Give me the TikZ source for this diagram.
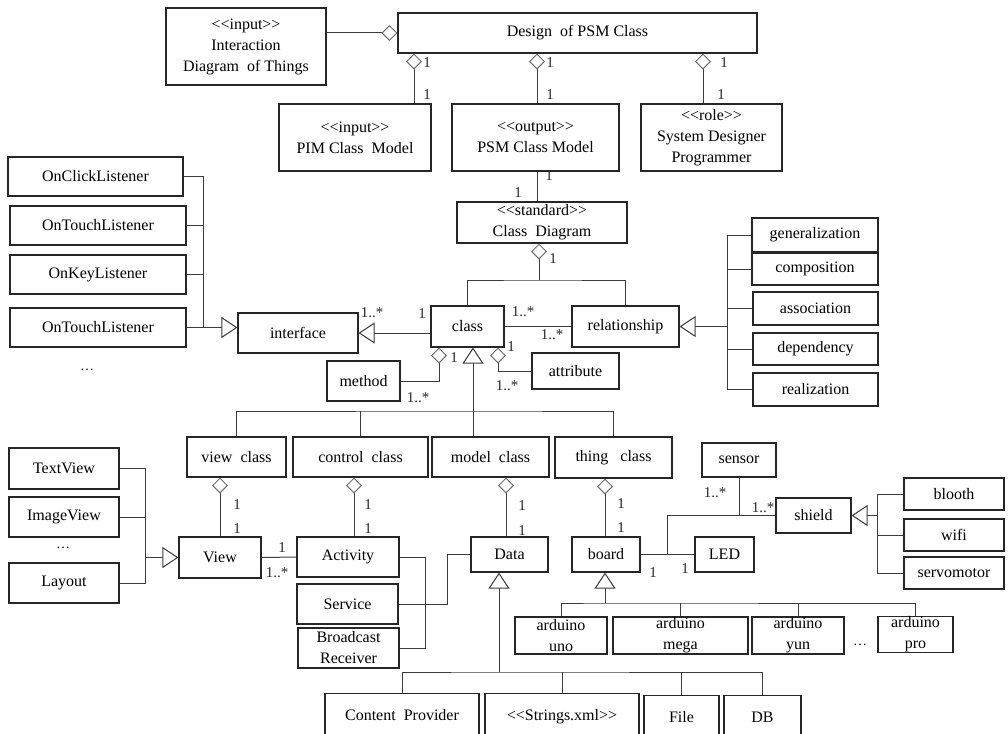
\documentclass[tikz,border=0pt]{standalone}
\usepackage{fontspec}
\setmainfont{Liberation Serif}[Ligatures=TeXOff]
\usetikzlibrary{arrows.meta}
\definecolor{edge}{HTML}{3C3C3C}
\definecolor{frame}{HTML}{262626}
\definecolor{hollow}{HTML}{6E6E6E}
\definecolor{multc}{HTML}{3A2230}
\tikzset{
  box/.style={draw=frame, line width=1.1pt, fill=white, inner sep=0pt, align=center,
    font=\fontsize{16}{21}\selectfont},
  cut/.style={draw=frame, line width=1.1pt, fill=white, inner sep=0pt, anchor=north,
    text height=27pt, text depth=20pt, font=\fontsize{16}{21}\selectfont},
  wire/.style={draw=edge, line width=1pt},
  agg/.style={{Diamond[length=16pt,width=16pt,color=hollow,fill=white]}-},
  isa/.style={-{Triangle[length=16pt,width=21pt,color=edge,fill=white]}},
  isaback/.style={{Triangle[length=16pt,width=21pt,color=edge,fill=white]}-},
  mult/.style={inner sep=0pt, text=multc, font=\fontsize{15}{15}\selectfont},
  dots/.style={inner sep=0pt, font=\fontsize{14}{14}\selectfont},
}
\begin{document}
\begin{tikzpicture}[x=1pt,y=-1pt]
\useasboundingbox (0,0) rectangle (1008,733);
\clip (0,0) rectangle (1008,733);
\fill[white] (0,0) rectangle (1008,733);

% ---- design task and its inputs / outputs
\node[box, minimum width=160pt, minimum height=77pt] (inter) at (246,46.5) {<<input>>\\Interaction\\Diagram\ \ of Things};
\node[box, minimum width=359pt, minimum height=40pt] (design) at (577.5,33) {Design\ \ of PSM Class};
\node[box, minimum width=152pt, minimum height=67pt] (pim) at (355,137.5) {<<input>>\\PIM Class\ \ Model};
\node[box, minimum width=167pt, minimum height=67pt] (psm) at (535.5,137.5) {<<output>>\\PSM Class Model};
\node[box, minimum width=141pt, minimum height=67pt] (role) at (711.5,137.5) {<<role>>\\System Designer\\Programmer};
\node[box, minimum width=170pt, minimum height=41pt] (cdiag) at (542,222.5) {<<standard>>\\Class\ \ Diagram};

% ---- listeners and interface
\node[box, minimum width=175pt, minimum height=39pt] (click) at (95.5,176.5) {OnClickListener};
\node[box, minimum width=176pt, minimum height=39pt] (touch1) at (98,225.5) {OnTouchListener};
\node[box, minimum width=176pt, minimum height=39pt] (key) at (98,274.5) {OnKeyListener};
\node[box, minimum width=176pt, minimum height=39pt] (touch2) at (98,327.5) {OnTouchListener};
\node[dots] (more1) at (87,370) {…};
\node[box, minimum width=120pt, minimum height=40pt] (iface) at (298,333) {interface};

% ---- class and its parts
\node[box, minimum width=73pt, minimum height=41pt] (cls) at (467.5,326.5) {class};
\node[box, minimum width=107pt, minimum height=41pt] (rel) at (625.5,326.5) {relationship};
\node[box, minimum width=73pt, minimum height=40pt] (method) at (363.5,381) {method};
\node[box, minimum width=87pt, minimum height=36pt] (attr) at (575.5,371) {attribute};

% ---- kinds of relationship
\node[box, minimum width=126pt, minimum height=34pt] (gen) at (815,235) {generalization};
\node[box, minimum width=126pt, minimum height=32pt] (comp) at (815,269) {composition};
\node[box, minimum width=125pt, minimum height=33pt] (assoc) at (815.5,308.5) {association};
\node[box, minimum width=125pt, minimum height=32pt] (dep) at (815.5,349) {dependency};
\node[box, minimum width=125pt, minimum height=33pt] (real) at (815.5,389.5) {realization};

% ---- class layers
\node[box, minimum width=99pt, minimum height=40pt] (vcls) at (236.5,457) {view\ \ class};
\node[box, minimum width=135pt, minimum height=40pt] (ccls) at (360.5,457) {control\ \ class};
\node[box, minimum width=117pt, minimum height=40pt] (mcls) at (490.5,457) {model\ \ class};
\node[box, minimum width=117pt, minimum height=41pt] (tcls) at (613.5,457.5) {thing\ \ \ class};

% ---- view layer
\node[box, minimum width=110pt, minimum height=41pt] (textv) at (64,468.5) {TextView};
\node[box, minimum width=110pt, minimum height=40pt] (imgv) at (64,517) {ImageView};
\node[dots] (more2) at (63,548) {…};
\node[box, minimum width=110pt, minimum height=40pt] (layout) at (64,583) {Layout};
\node[box, minimum width=82pt, minimum height=41pt] (view) at (220,557.5) {View};

% ---- control layer
\node[box, minimum width=102pt, minimum height=40pt] (act) at (348,557) {Activity};
\node[box, minimum width=101pt, minimum height=40pt] (serv) at (347.5,604) {Service};
\node[box, minimum width=101pt, minimum height=40pt] (bcast) at (348.5,648) {Broadcast\\Receiver};

% ---- model layer
\node[box, minimum width=77pt, minimum height=35pt] (data) at (509.5,554.5) {Data};
\node[cut, minimum width=154pt] (cprov) at (402,693) {Content\ \ Provider};
\node[cut, minimum width=154pt] (strxml) at (562,693) {<<Strings.xml>>};
\node[cut, minimum width=75pt] (file) at (681.5,695) {File};
\node[cut, minimum width=77pt] (db) at (762.5,695) {DB};

% ---- thing layer
\node[box, minimum width=68pt, minimum height=35pt] (board) at (606,554.5) {board};
\node[box, minimum width=59pt, minimum height=35pt] (led) at (724.5,554.5) {LED};
\node[box, minimum width=74pt, minimum height=34pt] (sensor) at (739,460) {sensor};
\node[box, minimum width=75pt, minimum height=35pt] (shield) at (813.5,515.5) {shield};
\node[box, minimum width=100pt, minimum height=32pt] (blooth) at (954,494) {blooth};
\node[box, minimum width=100pt, minimum height=32pt] (wifi) at (954,535) {wifi};
\node[box, minimum width=100pt, minimum height=32pt] (servo) at (954,573) {servomotor};
\node[box, minimum width=92pt, minimum height=37pt] (uno) at (561,635.5) {arduino\\uno};
\node[box, minimum width=135pt, minimum height=37pt] (mega) at (680.5,635.5) {arduino\\mega};
\node[box, minimum width=92pt, minimum height=37pt] (yun) at (798,635.5) {arduino\\yun};
\node[dots] (more3) at (860,645) {…};
\node[box, minimum width=75pt, minimum height=35pt] (pro) at (915.5,634.5) {arduino\\pro};

% ---- connectors: design task
\draw[wire, agg] (design.west) -- (design.west -| inter.east);
\draw[wire, agg] (design.south -| 414,0) -- (pim.north -| 414,0);
\draw[wire, agg] (design.south -| 537,0) -- (psm.north -| 537,0);
\draw[wire, agg] (design.south -| 703,0) -- (role.north -| 703,0);
\draw[wire] (psm.south -| 537,0) -- (cdiag.north -| 537,0);

% ---- connectors: class diagram content
\coordinate (cbus) at (539,280);
\draw[wire, agg] (cdiag.south -| cbus) -- (cbus);
\draw[wire] (cls.north) |- (cbus) -| (rel.north);
\draw[wire, isa] (cls.west |- 0,333) -- (iface.east |- 0,333);
\draw[wire] (cls.east) -- (rel.west);
\draw[wire, agg] (cls.south -| 439,0) |- (method.east);
\draw[wire, agg] (cls.south -| 498,0) |- (attr.west);

% ---- listeners realise interface
\draw[wire] (click.east) -| (touch2.east -| 203,0);
\draw[wire] (touch1.east) -- (touch1.east -| 203,0);
\draw[wire] (key.east) -- (key.east -| 203,0);
\draw[wire, isa] (touch2.east) -- (iface.west |- touch2.east);

% ---- kinds of relationship
\draw[wire, isaback] (rel.east) -- (rel.east -| 727,0);
\draw[wire] (gen.west) -| (real.west -| 727,0) -- (real.west);
\draw[wire] (comp.west) -- (comp.west -| 727,0);
\draw[wire] (assoc.west) -- (assoc.west -| 727,0);
\draw[wire] (dep.west) -- (dep.west -| 727,0);

% ---- class layers
\coordinate (lay) at (473,411);
\draw[wire, isaback] (cls.south -| lay) -- (mcls.north -| lay);
\draw[wire] (vcls.north) |- (lay) -| (tcls.north);
\draw[wire] (ccls.north) -- (ccls.north |- lay);
\draw[wire, agg] (vcls.south -| view.north) -- (view.north);
\draw[wire, agg] (ccls.south -| 354,0) -- (act.north -| 354,0);
\draw[wire, agg] (mcls.south -| 506,0) -- (data.north -| 506,0);
\draw[wire, agg] (tcls.south -| 605,0) -- (board.north -| 605,0);

% ---- view layer
\draw[wire, isa] (view.west -| 145,0) -- (view.west);
\draw[wire] (textv.east) -| (layout.east -| 145,0) -- (layout.east);
\draw[wire] (imgv.east) -- (imgv.east -| 145,0);
\draw[wire] (view.east) -- (act.west);

% ---- control layer
\draw[wire] (act.east) -| (bcast.east -| 425,0) -- (bcast.east);
\draw[wire] (serv.east) -| (data.west -| 447,0) -- (data.west);

% ---- model layer
\coordinate (dbus) at (499,672);
\draw[wire, isaback] (data.south -| dbus) -- (dbus);
\draw[wire] (cprov.north) |- (dbus) -| (db.north);
\draw[wire] (strxml.north) -- (strxml.north |- dbus);
\draw[wire] (file.north) -- (file.north |- dbus);

% ---- thing layer
\coordinate (abus) at (605,603);
\draw[wire, isaback] (board.south -| abus) -- (abus);
\draw[wire] (uno.north) |- (abus) -| (pro.north);
\draw[wire] (mega.north) -- (mega.north |- abus);
\draw[wire] (yun.north) -- (yun.north |- abus);
\draw[wire] (board.east) -- (led.west);
\coordinate (bj) at (667,554.5);
\draw[wire] (bj) |- (shield.west);
\draw[wire] (sensor.south) -- (sensor.south |- shield.west);
\draw[wire, isa] (shield.east -| 877,0) -- (shield.east);
\draw[wire] (blooth.west) -| (servo.west -| 877,0) -- (servo.west);
\draw[wire] (wifi.west) -- (wifi.west -| 877,0);

% ---- multiplicities
\node[mult] (m1) at (427,63) {1};
\node[mult] (m2) at (427,95) {1};
\node[mult] (m3) at (550,63) {1};
\node[mult] (m4) at (550,95) {1};
\node[mult] (m5) at (724,63) {1};
\node[mult] (m6) at (721,95) {1};
\node[mult] (m7) at (549,176) {1};
\node[mult] (m8) at (518,193) {1};
\node[mult] (m9) at (553,259) {1};
\node[mult] (m10) at (372,313) {1..*};
\node[mult] (m11) at (422,314) {1};
\node[mult] (m12) at (523,312) {1..*};
\node[mult] (m13) at (552,335) {1..*};
\node[mult] (m14) at (454,358) {1};
\node[mult] (m15) at (418,398) {1..*};
\node[mult] (m16) at (511,347) {1};
\node[mult] (m17) at (507,386) {1..*};
\node[mult] (m18) at (237,505) {1};
\node[mult] (m19) at (237,529) {1};
\node[mult] (m20) at (368,505) {1};
\node[mult] (m21) at (368,529) {1};
\node[mult] (m22) at (522,506) {1};
\node[mult] (m23) at (522,531) {1};
\node[mult] (m24) at (621,504) {1};
\node[mult] (m25) at (621,528) {1};
\node[mult] (m26) at (282,548) {1};
\node[mult] (m27) at (277,573) {1..*};
\node[mult] (m28) at (653,573) {1};
\node[mult] (m29) at (685,569) {1};
\node[mult] (m30) at (715,493) {1..*};
\node[mult] (m31) at (763,508) {1..*};
\end{tikzpicture}
\end{document}
